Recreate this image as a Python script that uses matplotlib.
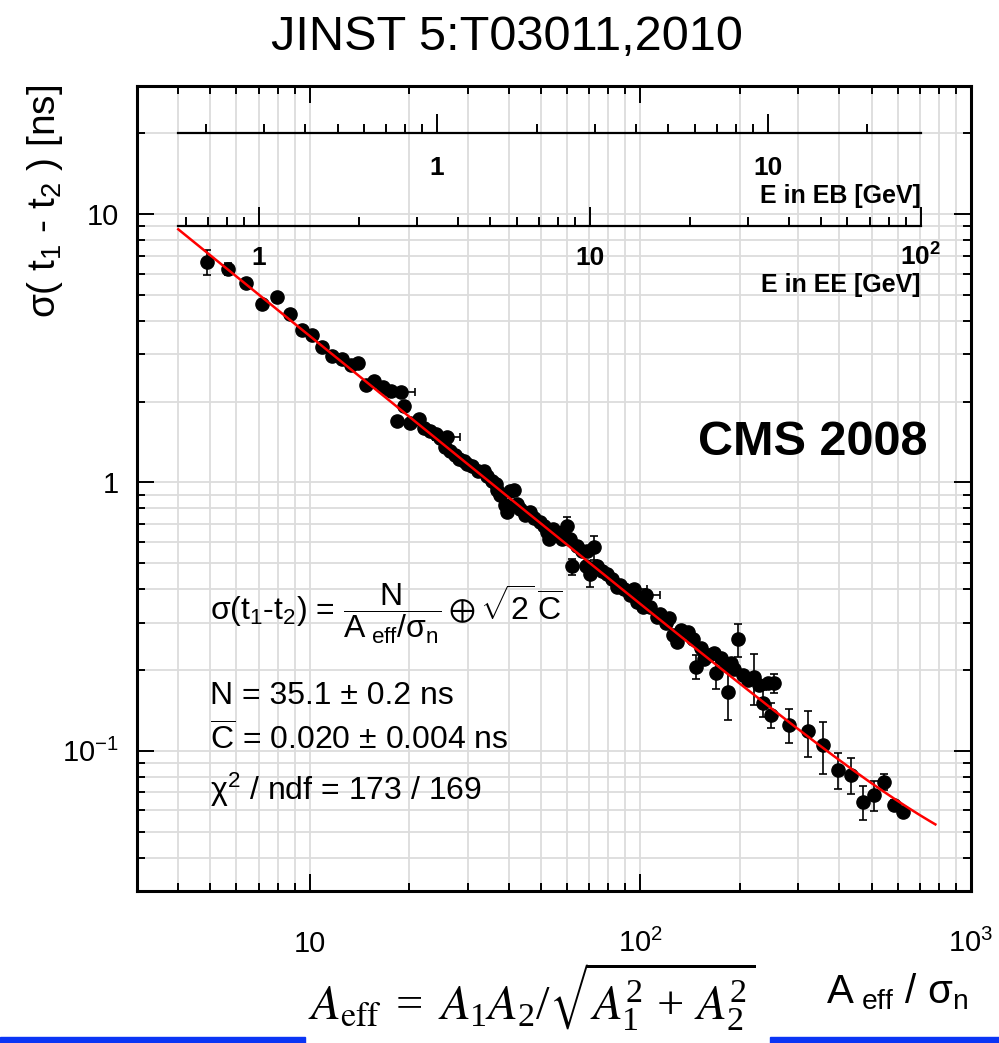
import numpy as np
import matplotlib.pyplot as plt
from matplotlib.ticker import LogLocator, NullFormatter
from matplotlib.patches import Rectangle

plt.rcParams['font.family'] = ['Liberation Sans', 'DejaVu Sans']
plt.rcParams['mathtext.fontset'] = 'custom'
plt.rcParams['mathtext.rm'] = 'Liberation Sans'
plt.rcParams['mathtext.it'] = 'Liberation Sans:italic'
plt.rcParams['mathtext.bf'] = 'Liberation Sans:bold'
plt.rcParams['mathtext.sf'] = 'Liberation Sans'
plt.rcParams['mathtext.default'] = 'regular'

# ---- fit result: sigma = N/(A/sn) (+) sqrt(2) C ----
N_fit = 35.1
C_fit = 0.020
fit_range = (4, 780)

# ---- measured time resolution vs A_eff/sigma_n ----
a_eff = [4.87, 5.64, 6.40, 7.15, 7.94, 8.70, 9.46, 10.14, 10.87, 11.66,
         12.50, 13.31, 13.98, 14.78, 15.63, 16.64, 17.60, 18.35, 18.87, 19.27,
         20.09, 21.39, 22.15, 23.10, 24.09, 24.77, 25.65, 26.01, 26.56, 27.50,
         28.28, 29.29, 29.91, 30.97, 32.29, 33.68, 34.39, 35.62, 36.62, 36.88,
         37.65, 38.99, 39.54, 40.37, 41.51, 42.39, 43.29, 44.82, 46.42, 47.73,
         49.77, 51.18, 52.26, 52.99, 54.49, 56.03, 58.02, 58.43, 60.09, 61.36,
         62.22, 64.44, 66.73, 68.62, 69.10, 70.55, 72.54, 74.07, 76.70, 79.43,
         82.26, 85.18, 87.00, 89.46, 93.29, 95.90, 97.93, 102.1, 103.6, 107.2,
         112.6, 115.0, 119.1, 121.6, 125.9, 129.4, 132.2, 138.8, 143.8, 146.8,
         152.0, 155.2, 160.7, 166.4, 168.7, 174.8, 181.0, 183.5, 187.4, 191.3,
         196.7, 203.7, 210.9, 220.0, 227.8, 234.2, 242.5, 247.7, 252.9, 280.9,
         320.7, 356.0, 395.4, 433.0, 470.7, 508.3, 545.0, 584.4, 622.2]
sigma = [6.62, 6.23, 5.53, 4.62, 4.90, 4.24, 3.69, 3.54, 3.19, 2.95,
         2.88, 2.73, 2.78, 2.30, 2.38, 2.26, 2.20, 1.69, 2.17, 1.92,
         1.66, 1.72, 1.60, 1.56, 1.52, 1.47, 1.36, 1.48, 1.31, 1.26,
         1.22, 1.20, 1.17, 1.15, 1.10, 1.10, 1.06, 1.01, 0.99, 0.94,
         0.894, 0.821, 0.779, 0.926, 0.94, 0.828, 0.793, 0.753, 0.773, 0.734,
         0.709, 0.685, 0.651, 0.613, 0.668, 0.645, 0.613, 0.651, 0.685, 0.613,
         0.486, 0.577, 0.553, 0.490, 0.553, 0.454, 0.572, 0.486, 0.466, 0.454,
         0.435, 0.409, 0.413, 0.402, 0.382, 0.399, 0.357, 0.342, 0.379, 0.342,
         0.316, 0.324, 0.300, 0.313, 0.269, 0.255, 0.283, 0.276, 0.260, 0.206,
         0.242, 0.219, 0.228, 0.232, 0.195, 0.222, 0.209, 0.165, 0.213, 0.201,
         0.260, 0.191, 0.184, 0.189, 0.176, 0.151, 0.179, 0.136, 0.179, 0.125,
         0.118, 0.105, 0.0849, 0.0813, 0.0645, 0.0685, 0.0766, 0.0629, 0.0592]
sigma_err = [0.70, 0.32, 0, 0, 0, 0, 0, 0, 0, 0,
             0, 0, 0, 0, 0, 0, 0, 0, 0, 0,
             0, 0, 0, 0, 0, 0, 0, 0, 0, 0,
             0, 0, 0, 0, 0, 0, 0, 0, 0, 0,
             0, 0, 0, 0, 0, 0, 0, 0, 0, 0,
             0, 0, 0, 0, 0, 0, 0, 0, 0.059, 0,
             0.033, 0, 0, 0, 0, 0.047, 0.059, 0, 0, 0,
             0, 0, 0, 0, 0, 0, 0, 0, 0, 0,
             0, 0, 0, 0, 0, 0, 0, 0, 0, 0.021,
             0, 0, 0, 0, 0.025, 0, 0, 0.035, 0, 0,
             0.036, 0, 0, 0.041, 0, 0.018, 0, 0.014, 0.015, 0.018,
             0.023, 0.023, 0.013, 0.0126, 0.0094, 0.0088, 0.0053, 0.0027, 0.0025]
a_err = [0, 0, 0, 0, 0, 0, 0, 0, 0, 0,
         0, 0, 0, 0, 0, 0, 0, 0, 2.0, 0,
         0, 0, 0, 0, 0, 0, 0, 2.5, 0, 0,
         0, 0, 0, 0, 0, 0, 0, 0, 0, 0,
         0, 0, 0, 0, 0, 0, 0, 0, 0, 0,
         0, 0, 0, 0, 0, 0, 0, 0, 0, 0,
         0, 0, 0, 0, 0, 0, 0, 0, 0, 0,
         0, 0, 0, 0, 0, 9, 0, 0, 11, 0,
         0, 0, 0, 0, 0, 0, 0, 0, 0, 0,
         0, 0, 0, 0, 0, 0, 0, 0, 0, 0,
         0, 0, 0, 0, 0, 0, 0, 0, 0, 0,
         0, 0, 0, 0, 0, 0, 0, 0, 0]

# energy scales drawn inside the frame, spanning A_eff/sigma_n = 4 .. 705
a_axis = (4, 705)
eb_range = (0.165, 29)
ee_range = (0.57, 100)

fig = plt.figure(figsize=(9.99, 10.43), dpi=100)
ax = fig.add_axes([0.1371, 0.1457, 0.8349, 0.7718])
ax.set_xscale('log')
ax.set_yscale('log')
ax.set_xlim(3, 1000)
ax.set_ylim(0.03, 30)
ax.grid(True, which='both', color='#dcdcdc', lw=1.3)
ax.set_axisbelow(True)

ax.set_xticks([10, 100, 1000], labels=['10', '10$^2$', '10$^3$'])
ax.set_yticks([0.1, 1, 10], labels=['10$^{-1}$', '1', '10'])
for axis in (ax.xaxis, ax.yaxis):
    axis.set_minor_locator(LogLocator(base=10, subs=np.arange(2, 10)))
    axis.set_minor_formatter(NullFormatter())
ax.tick_params(which='both', direction='in', top=True, right=True,
               width=1.4, labelsize=21)
ax.tick_params(which='major', length=12)
ax.tick_params(which='minor', length=6)
ax.tick_params(axis='x', pad=44)
ax.tick_params(axis='y', pad=13)
for lbl in ax.get_xticklabels():
    lbl.set_va('baseline')
for sp in ax.spines.values():
    sp.set_linewidth(2.2)

ax.errorbar(a_eff, sigma, yerr=sigma_err, xerr=a_err, fmt='o', color='black',
            ms=9.5, elinewidth=1.2, capsize=3, capthick=1.2, zorder=3)

a_fit = np.logspace(np.log10(fit_range[0]), np.log10(fit_range[1]), 300)
sig_fit = np.sqrt((N_fit / a_fit) ** 2 + 2 * C_fit ** 2)
ax.plot(a_fit, sig_fit, color='red', lw=1.8, zorder=4)

# ---- secondary energy axes (barrel / endcap) ----
to_frac = ax.transScale + ax.transLimits


def energy_axis(y_sigma, e_range, majors, labels, title, pad, title_off):
    fx0, fy = to_frac.transform((a_axis[0], y_sigma))
    fx1, _ = to_frac.transform((a_axis[1], y_sigma))
    sub = ax.inset_axes([fx0, fy, fx1 - fx0, 0.04])
    sub.patch.set_visible(False)
    sub.set_xscale('log')
    sub.set_xlim(*e_range)
    sub.set_yticks([])
    for s in ('left', 'right', 'top'):
        sub.spines[s].set_visible(False)
    sub.spines['bottom'].set_linewidth(1.6)
    sub.set_xticks(majors, labels=labels)
    sub.xaxis.set_minor_locator(LogLocator(base=10, subs=np.arange(2, 10)))
    sub.xaxis.set_minor_formatter(NullFormatter())
    sub.tick_params(which='both', direction='in', width=1.4, labelsize=19,
                    pad=pad)
    sub.tick_params(which='major', length=14)
    sub.tick_params(which='minor', length=6.5)
    for lbl in sub.get_xticklabels():
        lbl.set_fontweight('bold')
        lbl.set_va('baseline')
    sub.annotate(title, (1, 0), xycoords='axes fraction',
                 xytext=(0, -title_off), textcoords='offset points',
                 ha='right', va='baseline', fontsize=18, fontweight='bold')
    return sub


energy_axis(20, eb_range, [1, 10], ['1', '10'], 'E in EB [GeV]', 30, 50)
energy_axis(9, ee_range, [1, 10, 100], ['1', '10', '10$^2$'],
            'E in EE [GeV]', 28, 47.5)

# ---- text ----
W, H = 999, 1043


def fx(px):
    return px / W


def fy(py):
    return 1 - py / H


fig.text(fx(507), fy(50), 'JINST 5:T03011,2010', ha='center', va='baseline',
         fontsize=35)
fig.text(fx(45), fy(85), 'σ( t$_1$ - t$_2$ ) [ns]', rotation=90,
         ha='center', va='top', fontsize=28)
fig.text(fx(968), fy(1003), r'A$_{\ eff}$ / σ$_n$', ha='right',
         va='baseline', fontsize=29)
fig.text(fx(927), fy(455), 'CMS 2008', ha='right', va='baseline',
         fontsize=35, fontweight='bold')

fig.text(fx(210), fy(620),
         r'σ(t$_1$-t$_2$) = $\dfrac{N}{A_{\ eff}/σ_n}\oplus\sqrt{2}\,\overline{C}$',
         ha='left', va='baseline', fontsize=23)
fig.text(fx(210), fy(704), 'N = 35.1 ± 0.2 ns', ha='left', va='baseline',
         fontsize=23)
fig.text(fx(210), fy(750), r'$\overline{C}$ = 0.020 ± 0.004 ns', ha='left',
         va='baseline', fontsize=23)
fig.text(fx(210), fy(800), 'χ$^2$ / ndf = 173 / 169', ha='left',
         va='baseline', fontsize=23)

fig.text(fx(308), fy(1020),
         r'$\mathit{A}_{\mathrm{eff}}\;=\;\mathit{A}_1\mathit{A}_2/'
         r'\sqrt{\mathit{A}_1^2\,+\,\mathit{A}_2^2}$',
         ha='left', va='baseline', fontsize=35, family='Liberation Serif',
         math_fontfamily='stix')

# blue rule along the bottom edge
for x0, x1 in ((0, 305), (770, 999)):
    fig.patches.append(Rectangle((fx(x0), 0), fx(x1) - fx(x0), 6 / H,
                                 transform=fig.transFigure,
                                 color='#0a35f5', zorder=5))

fig.savefig('out.png', dpi=100)
